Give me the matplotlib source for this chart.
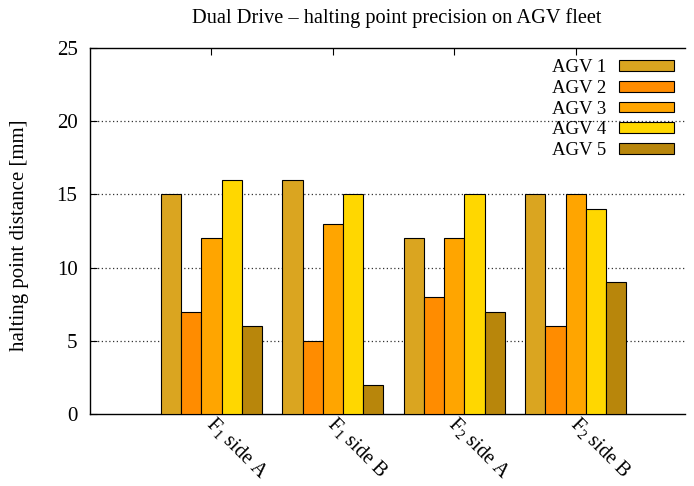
import numpy as np
import matplotlib
matplotlib.use('Agg')
import matplotlib.pyplot as plt
import matplotlib.transforms as mtrans

plt.rcParams['font.family'] = ['Liberation Serif', 'DejaVu Serif']
plt.rcParams['mathtext.fontset'] = 'custom'
plt.rcParams['mathtext.rm'] = 'Liberation Serif'
plt.rcParams['mathtext.it'] = 'Liberation Serif:italic'

# data
groups = [r'F$_1$ side A', r'F$_1$ side B', r'F$_2$ side A', r'F$_2$ side B']
agv_names = ['AGV 1', 'AGV 2', 'AGV 3', 'AGV 4', 'AGV 5']
agv1 = [15, 16, 12, 15]
agv2 = [7, 5, 8, 6]
agv3 = [12, 13, 12, 15]
agv4 = [16, 15, 15, 14]
agv5 = [6, 2, 7, 9]
series = [agv1, agv2, agv3, agv4, agv5]
colors = ['#DAA520', '#FF8C00', '#FFA500', '#FFD700', '#B8860B']

FS = 15

fig = plt.figure(figsize=(6.94, 4.86), dpi=100)
ax = fig.add_axes([90/694, 1-414/486, 595/694, 366/486])

x = np.arange(len(groups))
w = 1.0/6
for j, (vals, c, name) in enumerate(zip(series, colors, agv_names)):
    ax.bar(x + (j-2)*w, vals, width=w, color=c, edgecolor='black',
           linewidth=0.8, label=name, zorder=3)

ax.set_xlim(-1, 3.9)
ax.set_ylim(0, 25)
ax.set_yticks([0, 5, 10, 15, 20, 25])
ax.set_xticks(x)
ax.set_xticklabels(groups, rotation=-45, ha='left', va='top',
                   rotation_mode='anchor', fontsize=14.5)
ax.tick_params(axis='y', direction='in', length=5, labelsize=FS, pad=9)
ax.tick_params(axis='x', direction='in', length=5, top=True, pad=2)
# nudge rotated labels a bit right/up like the gnuplot output
shift = mtrans.ScaledTranslation(5/100, 4/100, fig.dpi_scale_trans)
for lbl in ax.get_xticklabels():
    lbl.set_transform(lbl.get_transform() + shift)
ax.spines['right'].set_visible(False)
for s in ['left', 'top', 'bottom']:
    ax.spines[s].set_linewidth(1.0)

for yv in [5, 10, 15, 20]:
    ax.axhline(yv, color='#333333', linestyle=(0, (1, 2)), linewidth=0.9, zorder=1)

fig.text(20/694, 1-235/486, 'halting point distance [mm]', rotation=90,
         ha='center', va='center', fontsize=FS)
fig.text(397/694, 1-18/486, 'Dual Drive – halting point precision on AGV fleet',
         ha='center', va='center', fontsize=14.7)

leg = ax.legend(loc='upper right', frameon=False, markerfirst=False,
                fontsize=13.5, handlelength=2.9, handleheight=0.5,
                labelspacing=0.2, borderaxespad=0.3, borderpad=0.3,
                handletextpad=0.7)
for t in leg.get_texts():
    t.set_ha('right')

fig.savefig('out.png', dpi=100)
